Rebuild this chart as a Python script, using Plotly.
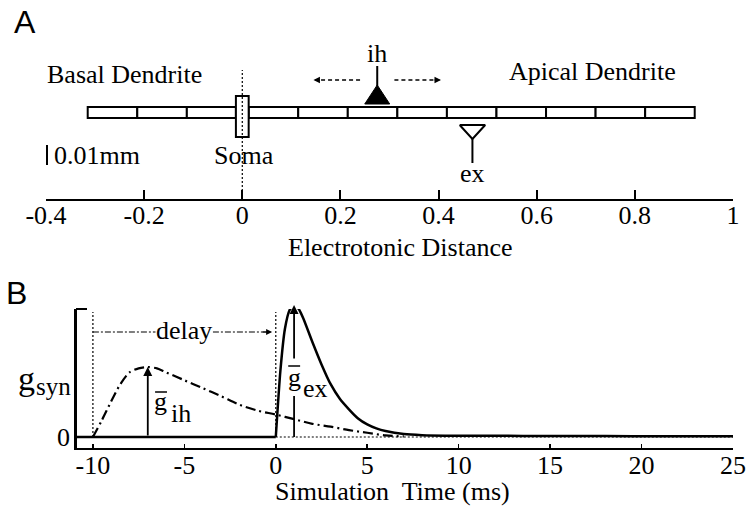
import plotly.graph_objects as go

# ---------------- Panel A data (electrotonic distance) ----------------
dist_ticks = [-0.4, -0.2, 0, 0.2, 0.4, 0.6, 0.8, 1.0]
dist_ticklabels = ["-0.4", "-0.2", "0", "0.2", "0.4", "0.6", "0.8", "1"]
basal_edges = [-0.315, -0.214, -0.113, -0.013]
apical_edges = [0.013, 0.114, 0.215, 0.316, 0.417, 0.518, 0.619, 0.720, 0.821, 0.922]
soma_pos = 0.0
soma_half = 0.013
ih_pos = 0.275
ex_pos = 0.469
scale_bar_pos = -0.4

# ---------------- Panel B data (conductance time courses) ----------------
time_ticks = [-10, -5, 0, 5, 10, 15, 20, 25]
time_ticklabels = ["-10", "-5", "0", "5", "10", "15", "20", "25"]
ih_t = [-10, -9.5, -9, -8.5, -8, -7.5, -7, -6.5, -6, -5, -4, -3, -2, -1, 0, 1, 2, 3, 4, 5, 6, 7]
ih_g = [0, 0.13, 0.27, 0.40, 0.49, 0.52, 0.53, 0.52, 0.49, 0.43, 0.37, 0.31, 0.245, 0.20, 0.17,
        0.135, 0.10, 0.078, 0.052, 0.032, 0.012, 0.004]
ex_pre_t = [-11, 0]
ex_pre_g = [0, 0]
ex_t = [0, 0.25, 0.5, 0.75, 1.0, 1.25, 1.5, 2.0, 2.5, 3.0, 3.5, 4.0, 4.5, 5.0, 5.5, 6.0, 7.0, 8.0,
        10, 12, 15, 18, 21, 25]
ex_g = [0, 0.50, 0.82, 0.96, 1.0, 0.97, 0.90, 0.72, 0.55, 0.40, 0.29, 0.21, 0.14, 0.095, 0.065,
        0.045, 0.022, 0.014, 0.010, 0.009, 0.008, 0.007, 0.006, 0.005]
ih_peak_t, ih_peak_g = -7.0, 0.53
ex_peak_t, ex_peak_g = 1.0, 1.0
delay_start, delay_end = -10, 0

# ---------------- layout helpers ----------------
W, H = 748, 506
SERIF = "Liberation Serif"
SANS = "Liberation Sans"
FS = 26
AX_A = 199          # pixel row of panel A axis
def ya(py):          # panel A vertical units: pixels above axis line
    return AX_A - py
BASE_B = 437         # pixel row of g = 0
PX_PER_G = 132.0
def gb(py):
    return (BASE_B - py) / PX_PER_G

fig = go.Figure()
shapes = []
ann = []
blk = "black"

def txt(x, y, s, size=FS, xref="x", yref="y", xanchor="center", yanchor="middle", family=SERIF, bg=None):
    d = dict(x=x, y=y, text=s, xref=xref, yref=yref, showarrow=False, xanchor=xanchor,
             yanchor=yanchor, font=dict(family=family, size=size, color=blk))
    if bg:
        d["bgcolor"] = bg
        d["borderpad"] = 0
    ann.append(d)

def arrowhead(x, y, ax, ay, xr, yr, size=1.0, width=1.2):
    ann.append(dict(x=x, y=y, ax=ax, ay=ay, xref=xr, yref=yr, axref=xr, ayref=yr, text="",
                    showarrow=True, arrowhead=2, arrowsize=size, arrowwidth=width,
                    arrowcolor=blk, standoff=0, startstandoff=0))

# ---------- Panel A ----------
for edges in (basal_edges, apical_edges):
    for a, b in zip(edges[:-1], edges[1:]):
        shapes.append(dict(type="rect", xref="x", yref="y", x0=a, x1=b, y0=ya(118), y1=ya(107),
                           line=dict(color=blk, width=2), fillcolor="white"))
shapes.append(dict(type="rect", xref="x", yref="y", x0=soma_pos - soma_half, x1=soma_pos + soma_half,
                   y0=ya(137), y1=ya(96), line=dict(color=blk, width=2), fillcolor="white"))
shapes.append(dict(type="line", xref="x", yref="y", x0=soma_pos, x1=soma_pos, y0=0, y1=ya(70),
                   line=dict(color=blk, width=1.2, dash="2px,2px")))
# scale bar
shapes.append(dict(type="line", xref="x", yref="y", x0=scale_bar_pos, x1=scale_bar_pos,
                   y0=ya(165), y1=ya(145), line=dict(color=blk, width=4)))
# ih synapse
shapes.append(dict(type="line", xref="x", yref="y", x0=ih_pos, x1=ih_pos, y0=ya(86), y1=ya(66),
                   line=dict(color=blk, width=2)))
hw = 12.5 / 491
fig.add_trace(go.Scatter(x=[ih_pos - hw, ih_pos + hw, ih_pos, ih_pos - hw],
                         y=[ya(104), ya(104), ya(85), ya(104)], mode="lines", fill="toself",
                         fillcolor=blk, line=dict(color=blk, width=1), xaxis="x", yaxis="y",
                         hoverinfo="skip", showlegend=False))
# dashed movement arrows
for sgn in (-1, 1):
    x_in = ih_pos + sgn * 0.035
    x_tip = ih_pos + sgn * 0.13
    shapes.append(dict(type="line", xref="x", yref="y", x0=x_in, x1=x_tip - sgn * 0.01,
                       y0=ya(80), y1=ya(80), line=dict(color=blk, width=1.3, dash="4px,3px")))
    arrowhead(x_tip, ya(80), x_tip - sgn * 0.016, ya(80), "x", "y", size=1.0, width=1.3)
# ex synapse
fig.add_trace(go.Scatter(x=[ex_pos - 0.026, ex_pos + 0.026, ex_pos, ex_pos - 0.026],
                         y=[ya(125), ya(125), ya(139), ya(125)], mode="lines",
                         line=dict(color=blk, width=2), xaxis="x", yaxis="y",
                         hoverinfo="skip", showlegend=False))
shapes.append(dict(type="line", xref="x", yref="y", x0=ex_pos, x1=ex_pos, y0=ya(139), y1=ya(163),
                   line=dict(color=blk, width=2)))

txt(12 / W, 1 - 22 / H, "A", size=32, xref="paper", yref="paper", xanchor="left", family=SANS)
txt(-0.240, ya(74), "Basal Dendrite")
txt(0.713, ya(71), "Apical Dendrite")
txt(ih_pos, ya(53), "ih")
txt(ex_pos, ya(173), "ex")
txt(soma_pos + 0.004, ya(155), "Soma")
txt(-0.388, ya(155), "0.01mm", xanchor="left")
txt(400 / W, 1 - 247 / H, "Electrotonic Distance", xref="paper", yref="paper")

# ---------- Panel B ----------
fig.add_trace(go.Scatter(x=ih_t, y=ih_g, mode="lines", line=dict(color=blk, width=2.2,
                         dash="10px,4px,2px,4px", shape="spline", smoothing=0.8),
                         xaxis="x2", yaxis="y2", hoverinfo="skip", showlegend=False))
fig.add_trace(go.Scatter(x=ex_pre_t, y=ex_pre_g, mode="lines", line=dict(color=blk, width=2.5),
                         xaxis="x2", yaxis="y2", hoverinfo="skip", showlegend=False))
fig.add_trace(go.Scatter(x=ex_t, y=ex_g, mode="lines", line=dict(color=blk, width=2.5,
                         shape="spline", smoothing=0.6),
                         xaxis="x2", yaxis="y2", hoverinfo="skip", showlegend=False))
shapes.append(dict(type="line", xref="x2", yref="y2", x0=0, x1=25, y0=0, y1=0,
                   line=dict(color=blk, width=1.2, dash="2px,2px"), layer="below"))
for tv in (delay_start, delay_end):
    shapes.append(dict(type="line", xref="x2", yref="y2", x0=tv, x1=tv, y0=0, y1=gb(312),
                       line=dict(color=blk, width=1.2, dash="2px,2px")))
shapes.append(dict(type="line", xref="x2", yref="y2", x0=delay_start, x1=delay_end - 0.4,
                   y0=gb(332), y1=gb(332), line=dict(color=blk, width=1.2, dash="6px,2px,2px,2px")))
arrowhead(delay_end - 0.2, gb(332), delay_end - 0.8, gb(332), "x2", "y2")
txt((delay_start + delay_end) / 2, gb(330), "delay", xref="x2", yref="y2", bg="white")
# peak conductance arrows
arrowhead(ih_peak_t, ih_peak_g, ih_peak_t, 0, "x2", "y2", size=1.0, width=1.8)
# g_ex arrow is interrupted by its label
shapes.append(dict(type="line", xref="x2", yref="y2", x0=ex_peak_t, x1=ex_peak_t, y0=0, y1=gb(396),
                   line=dict(color=blk, width=1.8)))
arrowhead(ex_peak_t, ex_peak_g, ex_peak_t, gb(360), "x2", "y2", size=1.0, width=1.8)
# g_ih label
txt(-6.28, gb(401), "g", xref="x2", yref="y2")
shapes.append(dict(type="line", xref="x2", yref="y2", x0=-6.6, x1=-5.95, y0=gb(392), y1=gb(392),
                   line=dict(color=blk, width=1.5)))
txt(-5.2, gb(413), "ih", xref="x2", yref="y2")
# g_ex label
txt(1.0, gb(377), "g", xref="x2", yref="y2")
shapes.append(dict(type="line", xref="x2", yref="y2", x0=0.68, x1=1.33, y0=gb(366), y1=gb(366),
                   line=dict(color=blk, width=1.5)))
txt(2.15, gb(388), "ex", xref="x2", yref="y2")
# g_syn label
txt(26 / W, 1 - 378 / H, "g", size=34, xref="paper", yref="paper")
txt(53 / W, 1 - 386 / H, "syn", size=25, xref="paper", yref="paper")
txt(64 / W, 0, "0", xref="paper", yref="y2")
# y-axis top bracket
shapes.append(dict(type="line", xref="paper", yref="paper", x0=76 / W, x1=87 / W,
                   y0=1 - 309 / H, y1=1 - 309 / H, line=dict(color=blk, width=2)))
txt(4 / W, 1 - 293 / H, "B", size=32, xref="paper", yref="paper", xanchor="left", family=SANS)
txt(392 / W, 1 - 491 / H, "Simulation\u00a0 Time (ms)", xref="paper", yref="paper")

tickfont = dict(family=SERIF, size=FS, color=blk)
fig.update_layout(
    width=W, height=H, margin=dict(l=0, r=0, t=0, b=0, autoexpand=False),
    paper_bgcolor="white", plot_bgcolor="white", showlegend=False,
    xaxis=dict(domain=[46 / W, 733 / W], range=[-0.4, 1.0], anchor="y", showline=True,
               linecolor=blk, linewidth=2, ticks="inside", ticklen=9, tickwidth=2, tickcolor=blk,
               tickvals=dist_ticks, ticktext=dist_ticklabels, tickfont=tickfont, automargin=False,
               ticklabelstandoff=-8, showgrid=False, zeroline=False, fixedrange=True),
    yaxis=dict(domain=[1 - AX_A / H, 1], range=[0, AX_A], anchor="x", visible=False, automargin=False),
    xaxis2=dict(domain=[77 / W, 733 / W], range=[-10.87, 25], anchor="y2", showline=True,
                linecolor=blk, linewidth=2, ticks="inside", ticklen=4, tickwidth=1.5, tickcolor=blk,
                tickvals=time_ticks, ticktext=time_ticklabels, tickfont=tickfont, automargin=False,
                ticklabelstandoff=-7, showgrid=False, zeroline=False),
    yaxis2=dict(domain=[1 - 448 / H, 1 - 309 / H], range=[-11 / PX_PER_G, 128 / PX_PER_G],
                anchor="x2", showline=True, linecolor=blk, linewidth=3, showticklabels=False,
                ticks="", showgrid=False, zeroline=False, automargin=False),
    shapes=shapes, annotations=ann,
)
fig.write_html("out.html", config={"displayModeBar": False, "staticPlot": True},
               post_script="document.body.style.margin='0';")
